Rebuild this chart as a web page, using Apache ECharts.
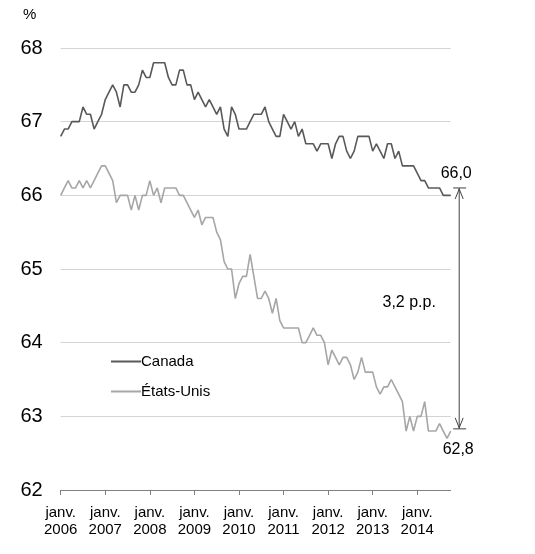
<!DOCTYPE html>
<html>
<head>
<meta charset="utf-8">
<script src="https://cdn.jsdelivr.net/npm/echarts@6/dist/echarts.min.js"></script>
<style>
html,body{margin:0;padding:0;background:#fff;}
#chart{width:535px;height:554px;}
</style>
</head>
<body>
<div id="chart"></div>
<script>
// ---- Data ----
const years = [2006, 2007, 2008, 2009, 2010, 2011, 2012, 2013, 2014];
const lastMonthOfFinalYear = 10; // janv. 2006 – oct. 2014
const seriesNames = ['Canada', 'États-Unis'];
const canada = [
  66.8, 66.9, 66.9, 67.0, 67.0, 67.0, 67.2, 67.1, 67.1, 66.9, 67.0, 67.1,
  67.3, 67.4, 67.5, 67.4, 67.2, 67.5, 67.5, 67.4, 67.4, 67.5, 67.7, 67.6,
  67.6, 67.8, 67.8, 67.8, 67.8, 67.6, 67.5, 67.5, 67.7, 67.7, 67.5, 67.5,
  67.3, 67.4, 67.3, 67.2, 67.3, 67.2, 67.1, 67.2, 66.9, 66.8, 67.2, 67.1,
  66.9, 66.9, 66.9, 67.0, 67.1, 67.1, 67.1, 67.2, 67.0, 66.9, 66.8, 66.8,
  67.1, 67.0, 66.9, 67.0, 66.8, 66.9, 66.7, 66.7, 66.7, 66.6, 66.7, 66.7,
  66.7, 66.5, 66.7, 66.8, 66.8, 66.6, 66.5, 66.6, 66.8, 66.8, 66.8, 66.8,
  66.6, 66.7, 66.6, 66.5, 66.7, 66.7, 66.5, 66.6, 66.4, 66.4, 66.4, 66.4,
  66.3, 66.2, 66.2, 66.1, 66.1, 66.1, 66.1, 66.0, 66.0, 66.0
];
const etatsUnis = [
  66.0, 66.1, 66.2, 66.1, 66.1, 66.2, 66.1, 66.2, 66.1, 66.2, 66.3, 66.4,
  66.4, 66.3, 66.2, 65.9, 66.0, 66.0, 66.0, 65.8, 66.0, 65.8, 66.0, 66.0,
  66.2, 66.0, 66.1, 65.9, 66.1, 66.1, 66.1, 66.1, 66.0, 66.0, 65.9, 65.8,
  65.7, 65.8, 65.6, 65.7, 65.7, 65.7, 65.5, 65.4, 65.1, 65.0, 65.0, 64.6,
  64.8, 64.9, 64.9, 65.2, 64.9, 64.6, 64.6, 64.7, 64.6, 64.4, 64.6, 64.3,
  64.2, 64.2, 64.2, 64.2, 64.2, 64.0, 64.0, 64.1, 64.2, 64.1, 64.1, 64.0,
  63.7, 63.9, 63.8, 63.7, 63.8, 63.8, 63.7, 63.5, 63.6, 63.8, 63.6, 63.6,
  63.6, 63.4, 63.3, 63.4, 63.4, 63.5, 63.4, 63.3, 63.2, 62.8, 63.0, 62.8,
  63.0, 63.0, 63.2, 62.8, 62.8, 62.8, 62.9, 62.8, 62.7, 62.8
];
const yTicks = [62, 63, 64, 65, 66, 67, 68];
const monthPrefix = 'janv.';
const arrowTopValue = 66.1;
const arrowBottomValue = 62.83;

// ---- Build categories ----
const categories = [];
years.forEach((y, i) => {
  const nm = (i === years.length - 1) ? lastMonthOfFinalYear : 12;
  for (let m = 1; m <= nm; m++) categories.push(y + '-' + (m < 10 ? '0' + m : m));
});

const FONT = '"Liberation Sans", Arial, sans-serif';
const colors = ['#595959', '#a6a6a6'];
const chart = echarts.init(document.getElementById('chart'), null, {renderer: 'canvas'});

const option = {
  animation: false,
  textStyle: {fontFamily: FONT, color: '#000'},
  title: {
    text: '%', left: 18, top: 2,
    textStyle: {fontFamily: FONT, fontSize: 15, fontWeight: 'normal', color: '#000'}
  },
  grid: {left: 60.7, right: 84.3, top: 48, bottom: 64, containLabel: false},
  legend: {
    orient: 'vertical', left: 106, top: 349,
    itemWidth: 30, itemHeight: 2, itemGap: 15,
    icon: 'rect',
    data: seriesNames,
    textStyle: {fontFamily: FONT, fontSize: 15, color: '#000', padding: [0, 0, 0, -5]}
  },
  xAxis: {
    type: 'category', data: categories, boundaryGap: false,
    axisLine: {show: true, lineStyle: {color: '#808080', width: 1}},
    axisTick: {show: true, length: 5, lineStyle: {color: '#808080'},
      interval: (i) => i % 12 === 0},
    axisLabel: {
      interval: (i) => i % 12 === 0,
      formatter: (v) => monthPrefix + '\n' + v.slice(0, 4),
      fontFamily: FONT, fontSize: 15, color: '#000', lineHeight: 17, margin: 14
    },
    splitLine: {show: false}
  },
  yAxis: {
    type: 'value', min: yTicks[0], max: yTicks[yTicks.length - 1], interval: 1,
    axisLine: {show: false}, axisTick: {show: false},
    axisLabel: {fontFamily: FONT, fontSize: 20, color: '#000', margin: 18},
    splitLine: {show: true, lineStyle: {color: '#d4d4d4', width: 1}}
  },
  series: [
    {name: seriesNames[0], type: 'line', data: canada, symbol: 'none', showSymbol: false,
      lineStyle: {color: colors[0], width: 1.6}, itemStyle: {color: colors[0]}, z: 3},
    {name: seriesNames[1], type: 'line', data: etatsUnis, symbol: 'none', showSymbol: false,
      lineStyle: {color: colors[1], width: 1.6}, itemStyle: {color: colors[1]}, z: 2}
  ]
};
chart.setOption(option);

// ---- Annotations (positions from the chart's own scales) ----
const n = categories.length;
const pTop = chart.convertToPixel({xAxisIndex: 0, yAxisIndex: 0}, [n - 1, arrowTopValue]);
const pBot = chart.convertToPixel({xAxisIndex: 0, yAxisIndex: 0}, [n - 1, arrowBottomValue]);
const ax = pTop[0] + 8.5;
const yT = pTop[1], yB = pBot[1];
const lastCa = canada[n - 1], lastUs = etatsUnis[n - 1];
const fmt = (v) => v.toFixed(1).replace('.', ',');
const gapTxt = fmt(lastCa - lastUs) + ' p.p.';
const midY = chart.convertToPixel({yAxisIndex: 0}, 64.55);
const stroke = {stroke: '#404040', lineWidth: 1, fill: null};

chart.setOption({
  graphic: [
    {type: 'line', shape: {x1: ax, y1: yT, x2: ax, y2: yB}, style: stroke},
    {type: 'line', shape: {x1: ax - 6, y1: yT, x2: ax + 7, y2: yT}, style: stroke},
    {type: 'line', shape: {x1: ax - 6, y1: yB, x2: ax + 7, y2: yB}, style: stroke},
    {type: 'polyline', shape: {points: [[ax - 4, yT + 11], [ax, yT + 1], [ax + 4, yT + 11]]}, style: stroke},
    {type: 'polyline', shape: {points: [[ax - 4, yB - 11], [ax, yB - 1], [ax + 4, yB - 11]]}, style: stroke},
    {type: 'text', x: ax - 3, y: yT - 14,
      style: {text: fmt(lastCa), fontFamily: FONT, fontSize: 16, fill: '#000', align: 'center', verticalAlign: 'middle'}},
    {type: 'text', x: ax - 1, y: yB + 21,
      style: {text: fmt(lastUs), fontFamily: FONT, fontSize: 16, fill: '#000', align: 'center', verticalAlign: 'middle'}},
    {type: 'text', x: ax - 50, y: midY,
      style: {text: gapTxt, fontFamily: FONT, fontSize: 16, fill: '#000', align: 'center', verticalAlign: 'middle'}}
  ]
});
</script>
</body>
</html>
